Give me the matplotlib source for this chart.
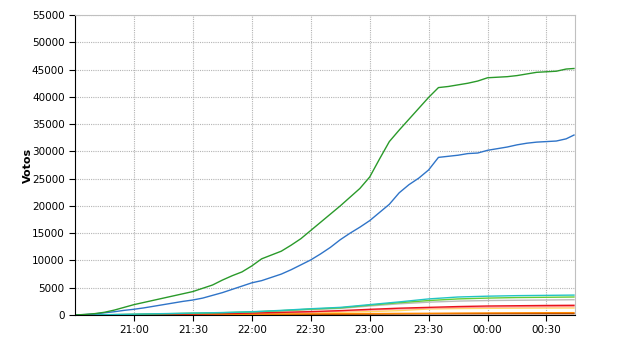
import numpy as np
import matplotlib
matplotlib.use("Agg")
import matplotlib.pyplot as plt

# minutes since 20:30
t_main = [0, 5, 10, 15, 20, 25, 30, 35, 40, 45, 50, 55, 60, 65, 70, 75, 80, 85, 90, 95,
          100, 105, 110, 115, 120, 125, 130, 135, 140, 145, 150, 155, 160, 165, 170, 175,
          180, 185, 190, 195, 200, 205, 210, 215, 220, 225, 230, 235, 240, 245, 250, 254]
green = [0, 100, 250, 500, 900, 1400, 1900, 2300, 2700, 3100, 3500, 3900, 4300, 4900, 5500,
         6400, 7200, 7900, 9000, 10300, 11000, 11700, 12800, 14000, 15500, 17000, 18500,
         20000, 21600, 23200, 25300, 28600, 31800, 33900, 35900, 37900, 39900, 41700, 41900,
         42200, 42500, 42900, 43500, 43600, 43700, 43900, 44200, 44500, 44600, 44700, 45100, 45200]
blue = [0, 80, 200, 400, 600, 850, 1050, 1300, 1600, 1900, 2200, 2500, 2750, 3100, 3600,
        4100, 4700, 5300, 5900, 6300, 6900, 7500, 8300, 9200, 10100, 11200, 12400, 13800,
        15000, 16100, 17300, 18800, 20300, 22400, 23900, 25100, 26600, 28900, 29100, 29300,
        29600, 29700, 30200, 30500, 30800, 31200, 31500, 31700, 31800, 31900, 32300, 33000]

t_small = [0, 15, 30, 45, 60, 75, 90, 105, 120, 135, 150, 165, 180, 195, 210, 225, 240, 254]
cyan = [0, 50, 150, 250, 350, 450, 600, 850, 1150, 1400, 1900, 2400, 2950, 3300, 3450, 3550, 3600, 3650]
lime = [0, 40, 130, 220, 320, 420, 560, 800, 1080, 1300, 1800, 2250, 2650, 2950, 3100, 3200, 3250, 3300]
gray = [0, 30, 110, 200, 290, 380, 500, 720, 980, 1200, 1650, 2050, 2350, 2550, 2650, 2700, 2750, 2800]
red = [0, 20, 60, 120, 180, 250, 350, 480, 620, 800, 1040, 1250, 1400, 1550, 1650, 1700, 1750, 1780]
pink = [0, 15, 50, 100, 150, 210, 300, 410, 540, 700, 900, 1100, 1250, 1380, 1450, 1500, 1520, 1550]
yellow = [0, 10, 40, 80, 120, 170, 230, 320, 420, 500, 620, 800, 1100, 1180, 1220, 1250, 1270, 1280]
orange = [0, 5, 20, 40, 60, 80, 110, 150, 200, 230, 260, 290, 310, 350, 380, 400, 420, 430]
brown = [0, 3, 10, 20, 30, 45, 60, 80, 110, 140, 170, 200, 220, 230, 240, 245, 248, 250]

xtick_pos = [30, 60, 90, 120, 150, 180, 210, 240]
xtick_lab = ["21:00", "21:30", "22:00", "22:30", "23:00", "23:30", "00:00", "00:30"]

fig = plt.figure(figsize=(6.4, 3.5), dpi=100)
ax = fig.add_axes([0.1172, 0.1, 0.7812, 0.857])

small = [(gray, "#bbbbbb"), (yellow, "#ffd966"), (pink, "#ff9999"), (brown, "#993300"),
         (orange, "#ff8800"), (red, "#e8141c"), (lime, "#66cc33"), (cyan, "#22c4c4")]
for vals, col in small:
    ax.plot(t_small, vals, color=col, lw=1)
ax.plot(t_main, blue, color="#2f74c8", lw=1)
ax.plot(t_main, green, color="#2a9a2a", lw=1)

ax.set_xlim(0, 254.5)
ax.set_ylim(0, 55000)
ax.set_yticks(np.arange(0, 55001, 5000))
ax.set_xticks(xtick_pos)
ax.set_xticklabels(xtick_lab)
ax.tick_params(labelsize=7.5, length=4, width=0.8, colors="black")
ax.grid(True, color="#b4b4b4", linestyle=(0, (1, 1)), linewidth=0.8)
ax.set_axisbelow(True)
for s in ["top", "right"]:
    ax.spines[s].set_color("#c0c0c0")
ax.set_ylabel("Votos", fontsize=8, fontweight="bold", labelpad=-1)

fig.savefig("out.png", dpi=100)
